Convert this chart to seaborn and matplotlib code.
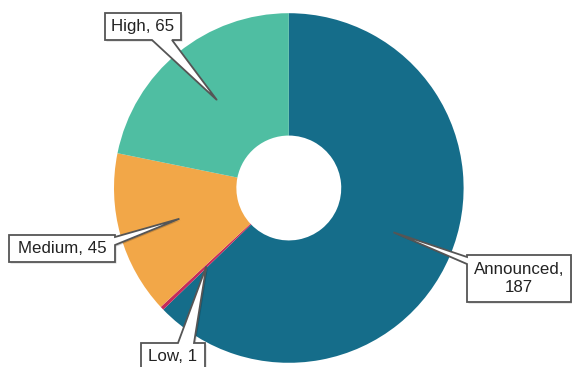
import numpy as np
import matplotlib
matplotlib.use("Agg")
import matplotlib.pyplot as plt
from matplotlib.patches import Polygon
import seaborn as sns

# Project status counts
categories = ["Announced", "Low", "Medium", "High"]
values = [187, 1, 45, 65]
colors = ["#156D8A", "#C62B5B", "#F2A748", "#4FBEA2"]

sns.set_style("white")
plt.rcParams["font.family"] = ["Liberation Sans", "DejaVu Sans"]

W, H = 572, 367
fig = plt.figure(figsize=(W / 100, H / 100), dpi=100)
ax = fig.add_axes([0, 0, 1, 1])
ax.set_xlim(0, W)
ax.set_ylim(0, H)
ax.set_aspect("equal")
ax.axis("off")


def py(y):
    """Convert a top-down pixel row to axis y."""
    return H - y


cx, cy, R = 288.8, py(188), 174.8
wedges, _ = ax.pie(values, colors=colors, startangle=90, counterclock=False,
                   center=(cx, cy), radius=R,
                   wedgeprops=dict(width=R * 0.70, linewidth=0))
ax.set_xlim(0, W)
ax.set_ylim(0, H)

# Callout boxes: (left, top, right, bottom) in pixel rows, side of pointer, base span
boxes = {
    "High": ((105, 13, 181, 40), "bottom", (152, 172)),
    "Medium": ((9, 235, 115, 262), "right", (237, 245)),
    "Announced": ((467, 255, 571, 302), "left", (257, 264)),
    "Low": ((141, 343, 205, 370), "top", (178, 194)),
}
labels = {c: f"{c}, {v}" if c != "Announced" else f"{c},\n{v}"
          for c, v in zip(categories, values)}


def callout_points(box, side, base, tip):
    x0, y0, x1, y1 = box
    b0, b1 = base
    pts = [(x0, y0)]
    if side == "top":
        pts += [(b0, y0), tip, (b1, y0)]
    pts += [(x1, y0)]
    if side == "right":
        pts += [(x1, b0), tip, (x1, b1)]
    pts += [(x1, y1)]
    if side == "bottom":
        pts += [(b1, y1), tip, (b0, y1)]
    pts += [(x0, y1)]
    if side == "left":
        pts += [(x0, b1), tip, (x0, b0)]
    return [(x, py(y)) for x, y in pts]


for cat, w in zip(categories, wedges):
    box, side, base = boxes[cat]
    mid = np.deg2rad((w.theta1 + w.theta2) / 2)
    tx = cx + 0.65 * R * np.cos(mid)
    ty = cy + 0.65 * R * np.sin(mid)
    tip = (tx, H - ty)
    pts = callout_points(box, side, base, tip)
    shadow = [(x + 1.5, y - 1.5) for x, y in pts]
    ax.add_patch(Polygon(shadow, closed=True, facecolor="#000000", alpha=0.18,
                         edgecolor="none", zorder=4))
    ax.add_patch(Polygon(pts, closed=True, facecolor="white", edgecolor="#555555",
                         linewidth=1.3, joinstyle="miter", zorder=5))
    x0, y0, x1, y1 = box
    ax.text((x0 + x1) / 2, py((y0 + y1) / 2), labels[cat], ha="center", va="center",
            fontsize=12.2, color="#222222", linespacing=1.2, zorder=6)

fig.savefig("out.png", dpi=100)
